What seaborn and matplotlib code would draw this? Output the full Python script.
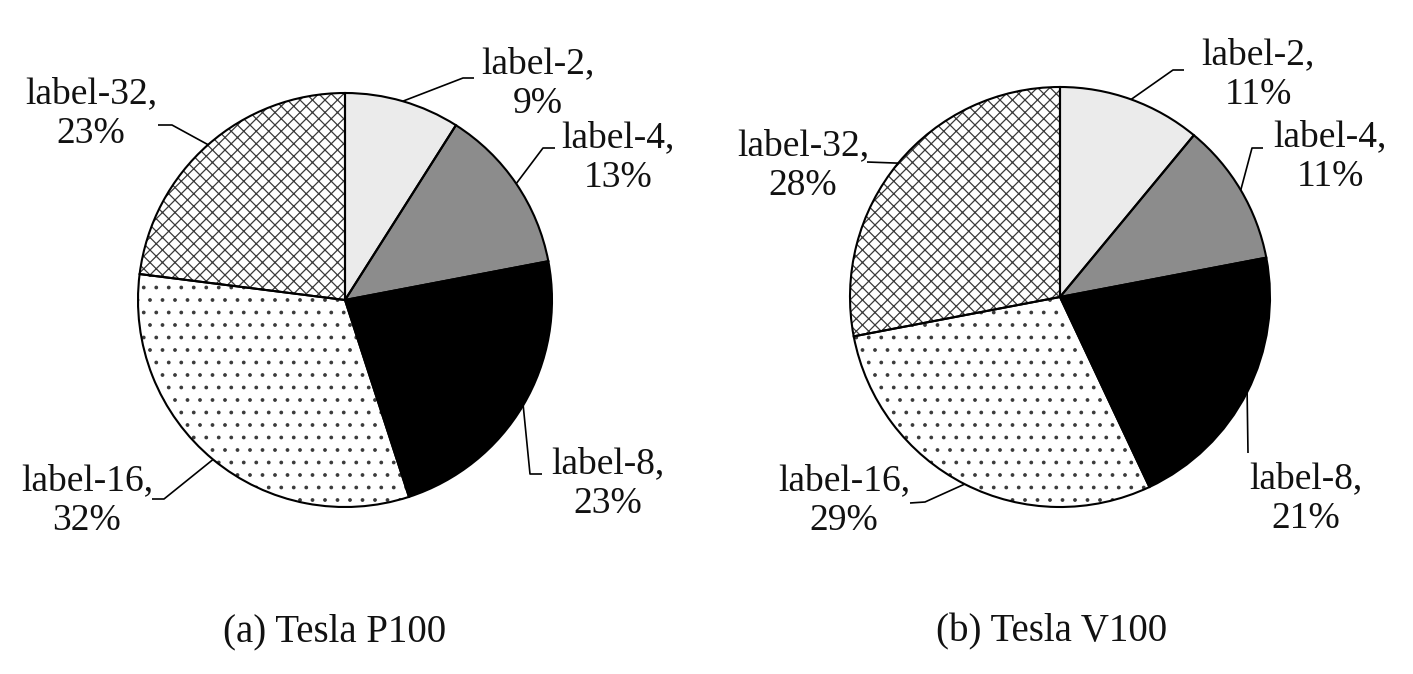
import matplotlib
matplotlib.use("Agg")
import numpy as np
import matplotlib.pyplot as plt
import seaborn as sns

# data
labels = ["label-2", "label-4", "label-8", "label-16", "label-32"]
p100_share = [9, 13, 23, 32, 23]
v100_share = [11, 11, 21, 29, 28]
titles = ["(a) Tesla P100", "(b) Tesla V100"]

sns.set_theme(style="white")
plt.rcParams["font.family"] = ["Liberation Serif", "DejaVu Serif"]
plt.rcParams["hatch.linewidth"] = 0.6

W, H, DPI = 1414, 674, 150
fig = plt.figure(figsize=(W / DPI, H / DPI), dpi=DPI, facecolor="white")

colors = ["#ebebeb", "#8c8c8c", "black", "white", "white"]
hatches = ["", "", "", "..", "xxxx"]

# layout, in pixels of the output image (y from top)
panels = [
    dict(vals=p100_share, x0=0, cx=345, cy=300, r=207, title_x=335,
         text=[(538, 84), (618, 158), (608, 484), (87, 501), (91, 114)],
         lead=[[(463, 78), (474, 78)], [(543, 148), (555, 148)],
               [(530, 474), (542, 474)], [(164, 499), (152, 499)],
               [(172, 125), (158, 125)]]),
    dict(vals=v100_share, x0=707, cx=1060, cy=297, r=210, title_x=1052,
         text=[(1258, 75), (1330, 157), (1306, 499), (844, 501), (803, 166)],
         lead=[[(1173, 70), (1184, 70)], [(1252, 148), (1263, 148)],
               [(1248, 453), (1248, 453)], [(925, 502), (910, 503)],
               [(867, 162), (867, 162)]]),
]

for i, p in enumerate(panels):
    ax = fig.add_axes([p["x0"] / W, 0, 707 / W, 1])
    # fills and hatches (dark grey hatch), then black outlines on top
    wedges, _ = ax.pie(p["vals"], colors=colors, startangle=90, counterclock=False,
                       wedgeprops=dict(edgecolor="#3a3a3a", linewidth=0))
    for w, h in zip(wedges, hatches):
        w.set_hatch(h)
    ax.pie(p["vals"], colors=["none"] * len(labels), startangle=90, counterclock=False,
           wedgeprops=dict(edgecolor="black", linewidth=1.0))
    ax.set_aspect("auto")
    cx, cy, r = p["cx"], p["cy"], p["r"]
    ax.set_xlim((p["x0"] - cx) / r, (p["x0"] + 707 - cx) / r)
    ax.set_ylim((cy - H) / r, cy / r)

    def to_data(pt):
        return (pt[0] - cx) / r, (cy - pt[1]) / r

    for w, lab, v, tpos, lead in zip(wedges, labels, p["vals"], p["text"], p["lead"]):
        ang = np.deg2rad((w.theta1 + w.theta2) / 2)
        pts = [(np.cos(ang), np.sin(ang))] + [to_data(q) for q in lead]
        xs, ys = zip(*pts)
        ax.plot(xs, ys, color="black", lw=0.8, solid_capstyle="butt")
        tx, ty = to_data(tpos)
        ax.text(tx, ty, f"{lab},\n{v}%", ha="center", va="center",
                fontsize=18, linespacing=1.2, color="#111111")

    fig.text(p["title_x"] / W, 1 - 632 / H, titles[i], ha="center", va="center",
             fontsize=18.7, color="#111111")

fig.savefig("out.png", dpi=DPI, facecolor="white")
